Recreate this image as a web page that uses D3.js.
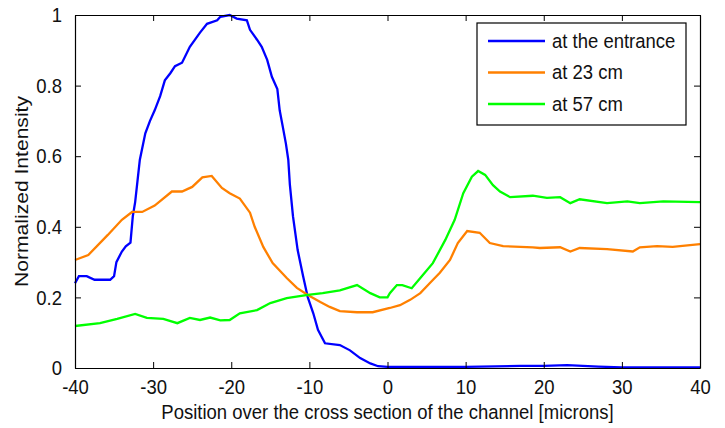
<!DOCTYPE html>
<html lang="en">
<head>
<meta charset="UTF-8">
<title>Normalized intensity</title>
<script src="https://d3js.org/d3.v7.min.js"></script>
<style>
    body { margin: 0; background: #fff; }
    text { font-family: "Liberation Sans", Arial, sans-serif; fill: #111; }
    .line { fill: none; stroke-width: 2.3px; stroke-linejoin: miter; }
    .axis path, .axis line { stroke: #000; }
</style>
</head>
<body>
<script>

// Series: [position (microns), normalized intensity]
var entrance = [
    [-40, 0.24], [-39.5, 0.26], [-38.5, 0.26], [-37.5, 0.25], [-36.5, 0.25], [-35.5, 0.25],
    [-35, 0.26], [-34.7, 0.30], [-34, 0.33], [-33.5, 0.345], [-32.9, 0.355], [-32.6, 0.43],
    [-32.3, 0.47], [-32.0, 0.53], [-31.7, 0.59], [-31.0, 0.665], [-30.4, 0.70], [-29.8, 0.73],
    [-29.1, 0.77], [-28.5, 0.815], [-27.8, 0.835], [-27.2, 0.855], [-26.3, 0.865], [-25.3, 0.91],
    [-24, 0.95], [-23.1, 0.975], [-21.8, 0.985], [-21.4, 0.995], [-20.2, 1.0], [-19.3, 0.99],
    [-18, 0.985], [-17.6, 0.958], [-16.7, 0.93], [-16.1, 0.91], [-15.4, 0.873], [-14.8, 0.825],
    [-14.1, 0.79], [-13.8, 0.73], [-13.4, 0.683], [-13, 0.635], [-12.7, 0.59], [-12.5, 0.52],
    [-12.1, 0.43], [-11.5, 0.334], [-10.8, 0.26], [-10.2, 0.2], [-9.5, 0.155], [-8.9, 0.108],
    [-8, 0.07], [-6.1, 0.065], [-4.8, 0.05], [-3.5, 0.028], [-2.2, 0.013], [-1.2, 0.005],
    [0, 0.003], [10, 0.003], [17, 0.006], [20, 0.006], [23, 0.008], [27, 0.004], [30, 0.002], [40, 0.002]
];

var at23 = [
    [-40, 0.306], [-38.3, 0.32], [-35.8, 0.377], [-34, 0.42], [-32.7, 0.442], [-31.4, 0.442],
    [-29.8, 0.46], [-27.6, 0.50], [-26.3, 0.50], [-25.0, 0.513], [-23.7, 0.54], [-22.5, 0.544],
    [-21.2, 0.51], [-20.2, 0.495], [-18.9, 0.48], [-17.6, 0.44], [-17, 0.40], [-15.9, 0.343],
    [-14.7, 0.297], [-12.9, 0.255], [-11.6, 0.227], [-10.2, 0.207], [-8.6, 0.187], [-7.4, 0.173],
    [-6.1, 0.161], [-3.9, 0.158], [-1.9, 0.158], [0.3, 0.17], [1.6, 0.178], [2.9, 0.193],
    [4.2, 0.212], [5.4, 0.24], [6.7, 0.27], [8, 0.306], [9, 0.354], [10.2, 0.388], [11.8, 0.383],
    [13.1, 0.354], [14.8, 0.345], [18.6, 0.342], [19.5, 0.34], [22.1, 0.342], [23.4, 0.33],
    [24.6, 0.34], [28.1, 0.337], [31.4, 0.33], [32.3, 0.342], [34.5, 0.345], [36.5, 0.343], [40, 0.351]
];

var at57 = [
    [-40, 0.119], [-36.8, 0.127], [-34.6, 0.139], [-32.3, 0.153], [-30.8, 0.142], [-28.7, 0.139],
    [-26.9, 0.127], [-25.3, 0.142], [-24, 0.136], [-22.7, 0.143], [-21.4, 0.135], [-20.2, 0.136],
    [-18.9, 0.155], [-16.7, 0.164], [-15, 0.184], [-12.9, 0.198], [-10.2, 0.207], [-8.3, 0.212],
    [-6.1, 0.22], [-3.9, 0.235], [-2.2, 0.212], [-1, 0.2], [0, 0.2], [0.3, 0.212], [1.2, 0.235],
    [1.9, 0.235], [3.1, 0.226], [4.2, 0.255], [5.8, 0.297], [7.4, 0.363], [8.6, 0.42], [9.7, 0.495],
    [10.8, 0.542], [11.6, 0.558], [12.5, 0.547], [13.5, 0.518], [14.4, 0.5], [15.7, 0.484],
    [18.6, 0.488], [20.4, 0.482], [22.1, 0.484], [23.4, 0.467], [24.6, 0.478], [28.1, 0.467],
    [30.7, 0.472], [32.3, 0.467], [35.3, 0.472], [40, 0.47]
];

var seriesNames = ["at the entrance", "at 23 cm", "at 57 cm"];
var seriesColors = ["#0000ff", "#ff8000", "#00ff00"];
var xTicks = [-40, -30, -20, -10, 0, 10, 20, 30, 40];
var yTicks = [0, 0.2, 0.4, 0.6, 0.8, 1];

var margin = {top: 15, right: 25, bottom: 60, left: 75},
    width = 725 - margin.left - margin.right,
    height = 428 - margin.top - margin.bottom;

var x = d3.scaleLinear().domain([-40, 40]).range([0, width]);
var y = d3.scaleLinear().domain([0, 1]).range([height, 0]);

var svg = d3.select("body").append("svg")
    .attr("width", width + margin.left + margin.right)
    .attr("height", height + margin.top + margin.bottom)
    .append("g")
    .attr("transform", "translate(" + margin.left + "," + margin.top + ")");

// the original text looks a bit taller than wide
var stretch = 1.14;
function tall(sel) {
    sel.each(function() {
        var t = d3.select(this),
            tx = +t.attr("x") || 0,
            ty = +t.attr("y") || 0;
        var old = t.attr("transform") || "";
        t.attr("transform", old + " translate(" + tx + "," + ty + ") scale(1," + stretch + ") translate(" + (-tx) + "," + (-ty) + ")");
    });
}

// Lines
var valueline = d3.line()
    .x(function(d) { return x(d[0]); })
    .y(function(d) { return y(d[1]); });

[entrance, at23, at57].forEach(function(data, i) {
    svg.append("path")
        .datum(data)
        .attr("class", "line")
        .attr("stroke", seriesColors[i])
        .attr("d", valueline);
});

// Axes with inward ticks, box all round
var tickLen = 6;
var fmt = function(d) { return String(d); };

svg.append("g")
    .attr("class", "axis")
    .attr("transform", "translate(0," + height + ")")
    .call(d3.axisBottom(x).tickValues(xTicks).tickSizeInner(-tickLen).tickSizeOuter(0).tickPadding(11).tickFormat(fmt))
    .selectAll("text").attr("font-size", "18.5px").attr("fill", "#111").call(tall);

svg.append("g")
    .attr("class", "axis")
    .call(d3.axisTop(x).tickValues(xTicks).tickSizeInner(-tickLen).tickSizeOuter(0).tickFormat(""));

svg.append("g")
    .attr("class", "axis")
    .call(d3.axisLeft(y).tickValues(yTicks).tickSizeInner(-tickLen).tickSizeOuter(0).tickPadding(13).tickFormat(fmt))
    .selectAll("text").attr("font-size", "18.5px").attr("fill", "#111").call(tall);

svg.append("g")
    .attr("class", "axis")
    .attr("transform", "translate(" + width + ",0)")
    .call(d3.axisRight(y).tickValues(yTicks).tickSizeInner(-tickLen).tickSizeOuter(0).tickFormat(""));

svg.selectAll(".axis text").style("font-family", "'Liberation Sans', Arial, sans-serif");
svg.selectAll(".domain").attr("stroke-width", 1.2);

// Axis titles
svg.append("text")
    .attr("x", width / 2)
    .attr("y", height + 51)
    .attr("text-anchor", "middle")
    .attr("font-size", "18.5px")
    .text("Position over the cross section of the channel [microns]")
    .call(tall);

// rotated, so the stretch runs along the text
svg.append("text")
    .attr("transform", "translate(-47," + (height / 2) + ") rotate(-90) scale(" + stretch + ",1)")
    .attr("text-anchor", "middle")
    .attr("font-size", "18.5px")
    .text("Normalized Intensity");

// Legend
var legend = svg.append("g")
    .attr("transform", "translate(" + (477 - margin.left) + "," + (23 - margin.top) + ")");

legend.append("rect")
    .attr("width", 209)
    .attr("height", 102)
    .attr("fill", "#fff")
    .attr("stroke", "#000")
    .attr("stroke-width", 1.2);

seriesNames.forEach(function(name, i) {
    var ly = 18 + i * 31.5;
    legend.append("line")
        .attr("x1", 11).attr("x2", 68)
        .attr("y1", ly).attr("y2", ly)
        .attr("stroke", seriesColors[i])
        .attr("stroke-width", 2.3);
    legend.append("text")
        .attr("x", 75)
        .attr("y", ly + 7)
        .attr("font-size", "18.5px")
        .text(name)
        .call(tall);
});

</script>
</body>
</html>
